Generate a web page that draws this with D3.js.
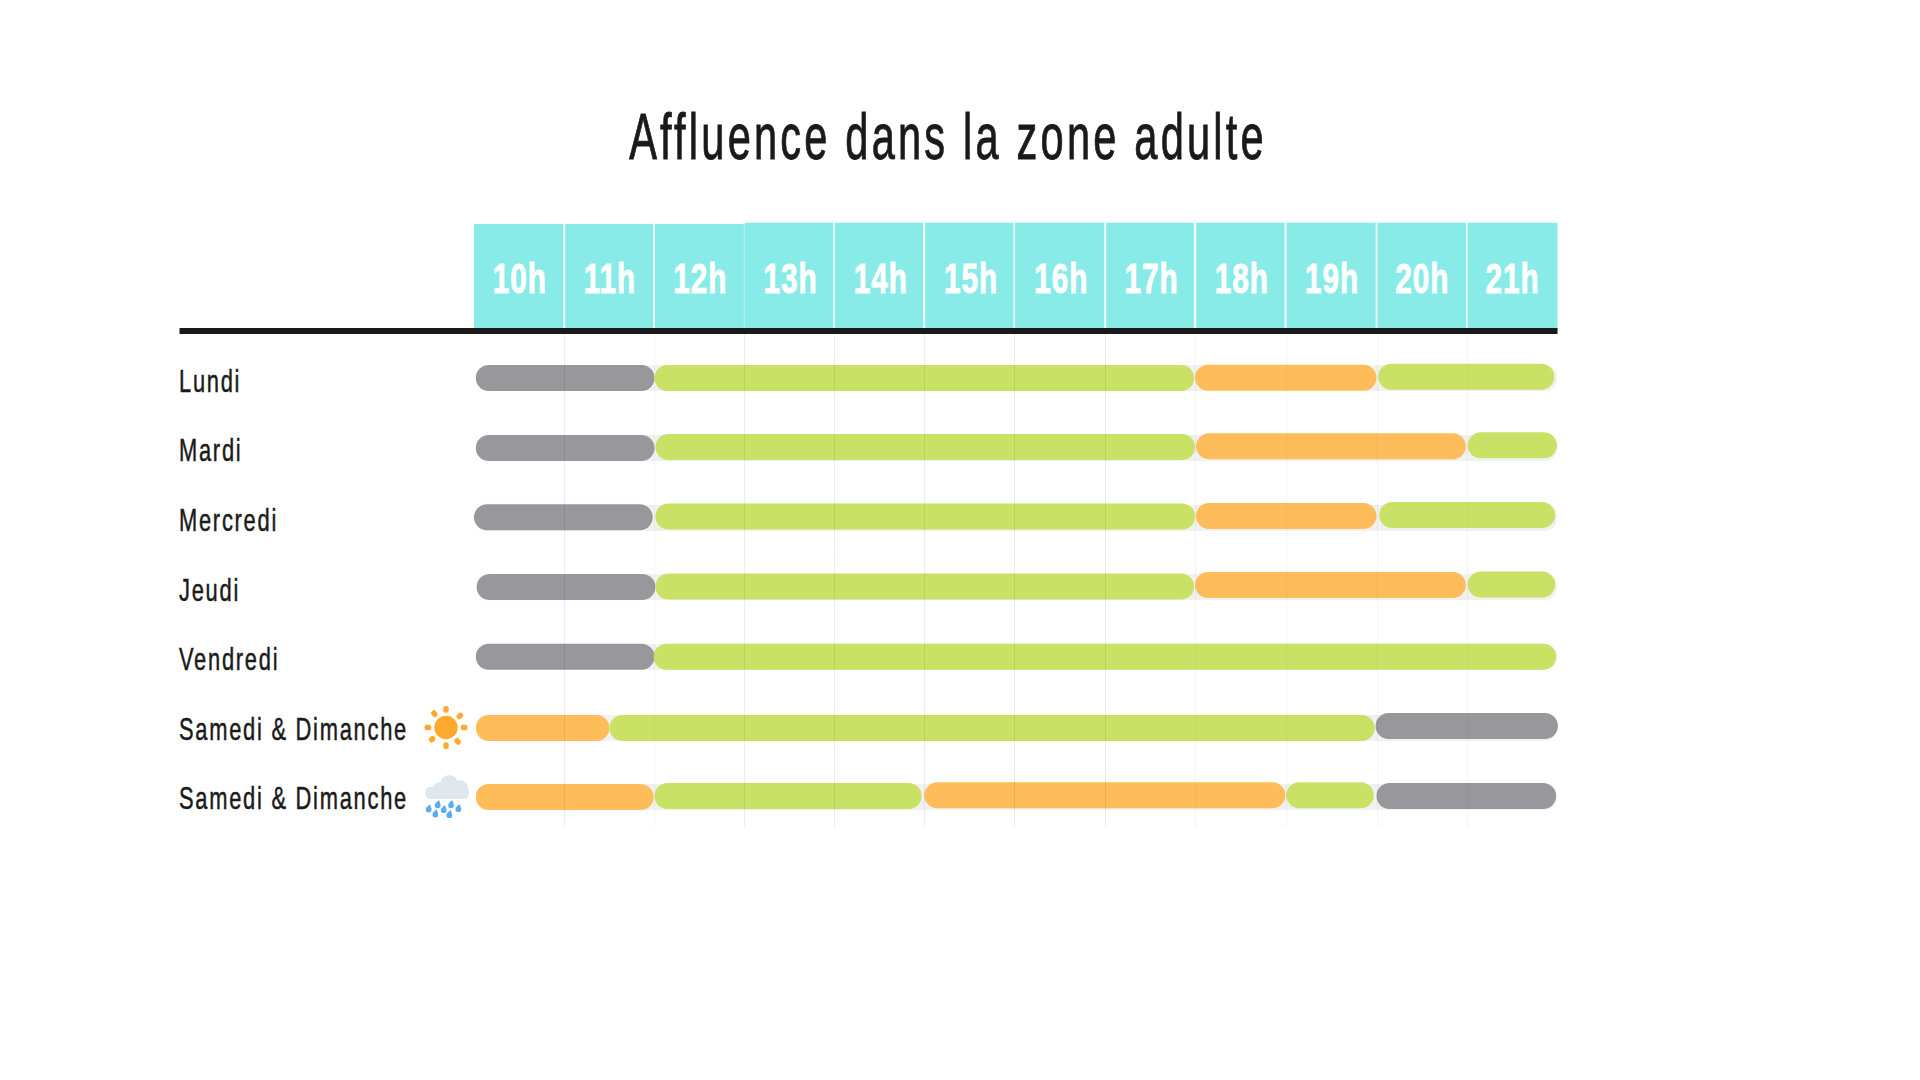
<!DOCTYPE html>
<html><head><meta charset="utf-8">
<script src="https://cdn.jsdelivr.net/npm/d3@7"></script>
<style>html,body{margin:0;background:#fff}svg{display:block}
text{font-family:"Liberation Sans",sans-serif}</style>
</head><body><svg id="c" width="1920" height="1080"></svg>
<script>
const title = "Affluence dans la zone adulte";
const hourLabels = ["10h","11h","12h","13h","14h","15h","16h","17h","18h","19h","20h","21h"];
const rowIds = ["Lundi","Mardi","Mercredi","Jeudi","Vendredi","Samedi & Dimanche (soleil)","Samedi & Dimanche (pluie)"];
const rowLabels = ["Lundi","Mardi","Mercredi","Jeudi","Vendredi","Samedi & Dimanche","Samedi & Dimanche"];
// [level, start hour, end hour]
const lundi    = [["calme",10.02,12.0],["moyen",12.0,17.98],["fort",17.99,20.0],["moyen",20.02,21.97]];
const mardi    = [["calme",10.02,12.0],["moyen",12.01,17.99],["fort",18.0,20.99],["moyen",21.01,22.0]];
const mercredi = [["calme",10.0,11.98],["moyen",12.01,17.99],["fort",18.0,20.0],["moyen",20.03,21.98]];
const jeudi    = [["calme",10.03,12.01],["moyen",12.01,17.98],["fort",17.99,20.99],["moyen",21.01,21.98]];
const vendredi = [["calme",10.02,12.0],["moyen",11.99,21.99]];
const soleil   = [["fort",10.02,11.5],["moyen",11.5,19.98],["calme",19.99,22.01]];
const pluie    = [["fort",10.02,11.99],["moyen",12.0,14.96],["fort",14.99,18.99],["moyen",19.0,19.97],["calme",20.0,21.99]];
const rowData = [lundi,mardi,mercredi,jeudi,vendredi,soleil,pluie];

const colors = {calme:"#98979c",moyen:"#c9e265",fort:"#ffbc5a"};
const ink="#1a1a1a", aqua="#88ebe8";
const svg=d3.select("#c");
const x=d3.scaleLinear().domain([10,22]).range([474,1557]);
const xBand=d3.scaleBand().domain(hourLabels).range([474,1557]);
const y=d3.scalePoint().domain(rowIds).range([378,797]);
const yLabel=d3.scalePoint().domain(rowIds).range([391.3,808.7]);
const BAR=26;

// small hand-placement drift of the original, in px: track, then each segment
const drift=[[0,0,0,-.3,-1.3],[.2,.2,-.8,-1.5,-2.5],[.3,-.4,-1.2,-1.7,-2.7],[-.5,-.5,-1,-2.5,-3],[-.6,-.6,-.6],[.8,.8,.8,-1.2],[0,0,-1,-1.7,-1.7,-1]];
const lineDrift=[0,-.5,-.5,-1,-1.2,-1.3,-.5,-1,-.7,0,0];

// header
const headTops=[224,224,224,222.7,222.7,222.7,222.7,222.7,222.7,222.7,222.7,222.7];
svg.append("g").selectAll("rect").data(hourLabels).join("rect")
  .attr("x",d=>xBand(d)).attr("width",xBand.bandwidth()+.5)
  .attr("y",(d,i)=>headTops[i]).attr("height",(d,i)=>330-headTops[i]).attr("fill",aqua);
const sepW=[2,2,.8,1.6,2,1.6,2,2.4,2,1.8,1.6];
svg.append("g").selectAll("line").data(hourLabels.slice(1)).join("line")
  .attr("x1",(d,i)=>xBand(d)+lineDrift[i]).attr("x2",(d,i)=>xBand(d)+lineDrift[i]).attr("y1",222).attr("y2",329)
  .attr("stroke",(d,i)=>i===2?"rgba(255,255,255,.45)":"#f2fbfb")
  .attr("stroke-width",(d,i)=>sepW[i]);

// tracks
svg.append("g").selectAll("rect").data(rowIds).join("rect")
  .attr("x",x(10)+2).attr("width",x(22)-x(10)-2)
  .attr("y",(d,i)=>y(d)-BAR/2+drift[i][0]).attr("height",BAR).attr("rx",12).attr("fill","#f1f1f2");

// bars
rowData.forEach((segs,r)=>{
  svg.append("g").selectAll("rect").data(segs).join("rect")
    .attr("x",d=>x(d[1])).attr("width",d=>x(d[2])-x(d[1]))
    .attr("y",(d,i)=>y(rowIds[r])-BAR/2+(drift[r][i+1]||0)).attr("height",BAR)
    .attr("rx",13).attr("fill",d=>colors[d[0]]);
});

// grid lines above the bars
const gridOp=[.075,.035,.07,.07,.07,.07,.075,.04,.04,.045,.04];
svg.append("g").selectAll("line").data(hourLabels.slice(1)).join("line")
  .attr("x1",(d,i)=>Math.round(xBand(d)+lineDrift[i])+.5).attr("x2",(d,i)=>Math.round(xBand(d)+lineDrift[i])+.5).attr("y1",334).attr("y2",827)
  .attr("stroke",(d,i)=>`rgba(0,0,0,${gridOp[i]})`).attr("stroke-width",1);

// rule
svg.append("rect").attr("x",179.5).attr("y",328).attr("width",1378).attr("height",6).attr("fill",ink);

// header labels (axis)
const hAxis=svg.append("g").attr("transform","translate(.6,292.6)").call(d3.axisBottom(xBand).tickSize(0).tickPadding(0));
hAxis.select(".domain").remove();
hAxis.selectAll("text").attr("y",0).attr("dy",0).attr("fill","#fff").attr("stroke","#fff").attr("stroke-width",.9)
  .attr("transform","scale(.71,1)")
  .attr("font-size",42).attr("font-weight",700).style("font-family",'"Liberation Sans",sans-serif').style("letter-spacing","1.2px");

// row labels (axis)
const rAxis=svg.append("g").attr("transform","translate(179,0)").call(d3.axisLeft(yLabel).tickSize(0).tickPadding(0).tickFormat((d,i)=>rowLabels[i]));
rAxis.select(".domain").remove();
rAxis.selectAll("text").attr("x",0).attr("dy",0).attr("y",0).attr("text-anchor","start").attr("fill",ink)
  .attr("stroke",ink).attr("stroke-width",.5).attr("transform","scale(.695,1)")
  .attr("font-size",31.5).style("font-family",'"Liberation Sans",sans-serif').style("letter-spacing","2.5px");

// title
svg.append("text").attr("transform","translate(948,159) scale(.64,1)").attr("text-anchor","middle").attr("fill",ink)
  .attr("stroke",ink).attr("stroke-width",.9)
  .attr("font-size",65).style("letter-spacing","5px").text(title);

// sun icon
const sun=svg.append("g").attr("transform","translate(446,727.5)").attr("fill","#ffa92e");
sun.append("circle").attr("r",11.7);
d3.range(8).forEach(i=>sun.append("rect").attr("x",-2.7).attr("y",-21.5).attr("width",5.4).attr("height",6.8).attr("rx",2.2)
  .attr("transform",`rotate(${i*45+(i%2?5:0)})`));

// rain icon
const rain=svg.append("g");
[[449.3,783.8,8.8],[440,789,7],[460,788.5,8.2],[431,793,6],[463,793,6]].forEach(c=>rain.append("circle").attr("cx",c[0]).attr("cy",c[1]).attr("r",c[2]).attr("fill","#dfe6ed"));
rain.append("rect").attr("x",425).attr("y",787).attr("width",44).attr("height",12).attr("rx",6).attr("fill","#dfe6ed");
[[428.7,809.3],[437.7,805],[435.3,814.3],[443.7,810],[451,805],[449.3,815],[458.3,809]].forEach(p=>
  rain.append("path").attr("d","M1.4,-5 C1.8,-2.8 2.9,-1.6 2.9,.2 A2.9,2.9 0 1 1 -2.9,.2 C-2.9,-1.8 -.6,-3.4 1.4,-5Z")
    .attr("transform",`translate(${p[0]},${p[1]})`).attr("fill","#5aaeef"));
</script></body></html>
